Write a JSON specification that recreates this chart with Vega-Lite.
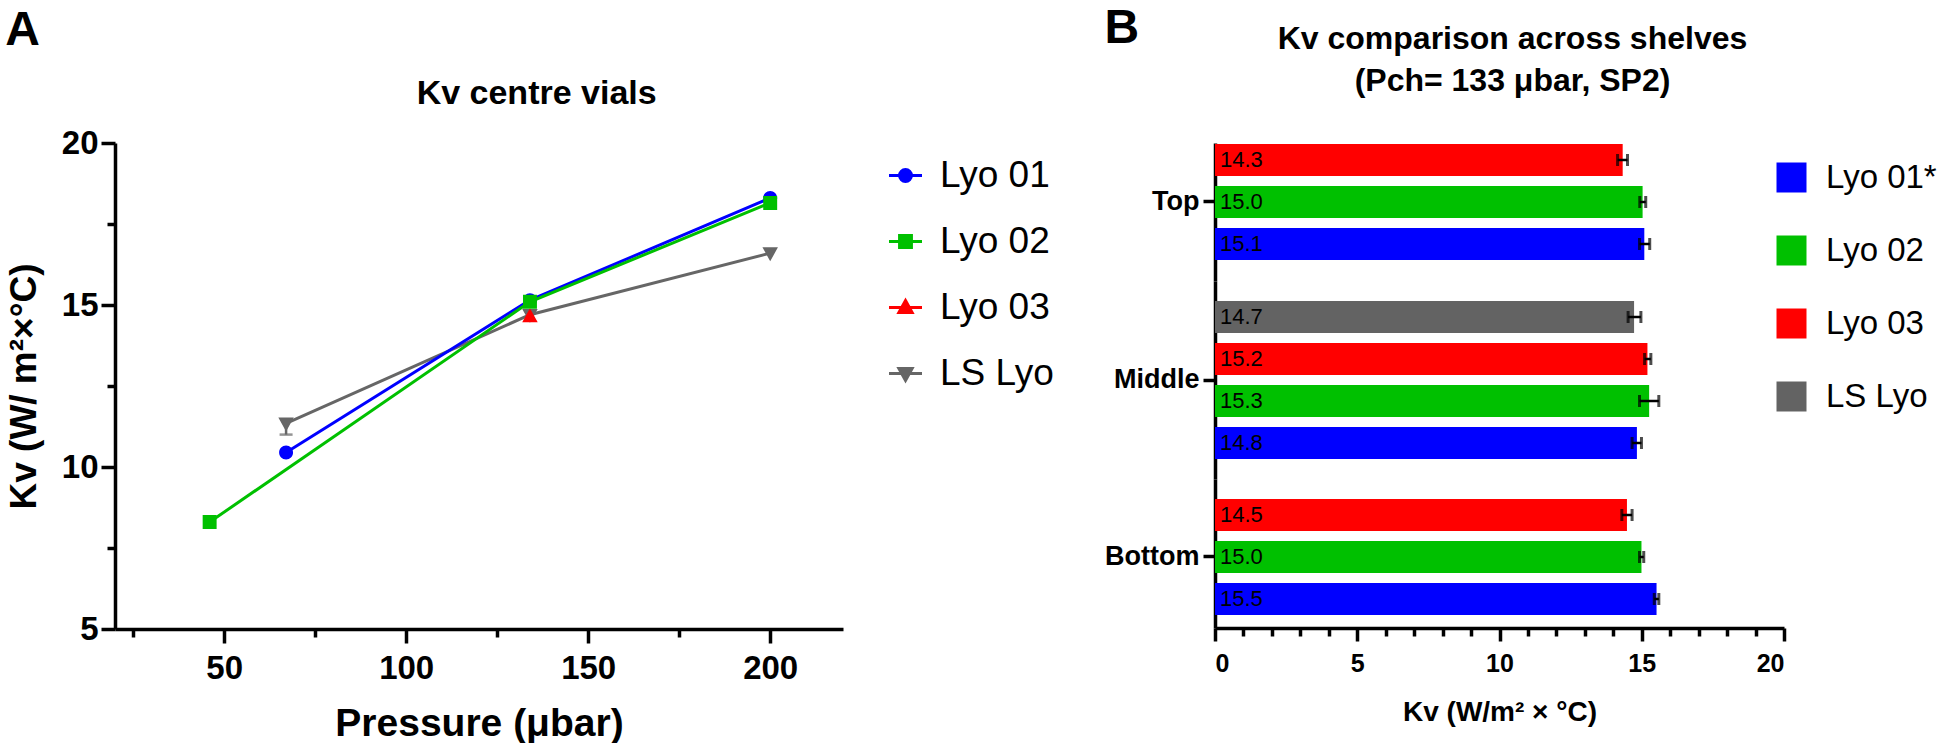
{
  "$schema": "https://vega.github.io/schema/vega-lite/v6.json",
  "padding": {"left": 5, "top": 5, "right": 0, "bottom": 0},
  "background": "white",
  "config": {
    "font": "Liberation Sans",
    "view": {"stroke": null},
    "axis": {"domainColor": "black", "tickColor": "black", "labelColor": "black", "titleColor": "black", "domainWidth": 3.5, "tickWidth": 3.5, "grid": false, "labelFont": "Liberation Sans", "titleFont": "Liberation Sans"},
    "title": {"color": "black", "font": "Liberation Sans"},
    "legend": {"labelColor": "black", "labelFont": "Liberation Sans"}
  },
  "datasets": {
    "kvA": [
      {"series": "LS Lyo", "pressure": 67, "kv": 11.35, "lo": 11.0},
      {"series": "LS Lyo", "pressure": 134, "kv": 14.7},
      {"series": "LS Lyo", "pressure": 200, "kv": 16.6},
      {"series": "Lyo 03", "pressure": 134, "kv": 14.65},
      {"series": "Lyo 01", "pressure": 67, "kv": 10.45},
      {"series": "Lyo 01", "pressure": 134, "kv": 15.15},
      {"series": "Lyo 01", "pressure": 200, "kv": 18.3},
      {"series": "Lyo 02", "pressure": 46, "kv": 8.3},
      {"series": "Lyo 02", "pressure": 134, "kv": 15.1},
      {"series": "Lyo 02", "pressure": 200, "kv": 18.15}
    ],
    "kvB": [
      {"shelf": "Top", "series": "Lyo 03", "kv": 14.33, "lo": 14.15, "hi": 14.5},
      {"shelf": "Top", "series": "Lyo 02", "kv": 15.03, "lo": 14.93, "hi": 15.14},
      {"shelf": "Top", "series": "Lyo 01*", "kv": 15.09, "lo": 14.92, "hi": 15.28},
      {"shelf": "Middle", "series": "LS Lyo", "kv": 14.73, "lo": 14.52, "hi": 14.97},
      {"shelf": "Middle", "series": "Lyo 03", "kv": 15.2, "lo": 15.1, "hi": 15.32},
      {"shelf": "Middle", "series": "Lyo 02", "kv": 15.26, "lo": 14.92, "hi": 15.6},
      {"shelf": "Middle", "series": "Lyo 01*", "kv": 14.83, "lo": 14.66, "hi": 14.99},
      {"shelf": "Bottom", "series": "Lyo 03", "kv": 14.48, "lo": 14.3, "hi": 14.66},
      {"shelf": "Bottom", "series": "Lyo 02", "kv": 14.99, "lo": 14.92, "hi": 15.07},
      {"shelf": "Bottom", "series": "Lyo 01*", "kv": 15.52, "lo": 15.44, "hi": 15.6}
    ]
  },
  "resolve": {"scale": {"color": "independent", "shape": "independent"}, "legend": {"color": "independent", "shape": "independent"}},
  "spacing": 36,
  "hconcat": [
    {
      "title": {"text": "A", "anchor": "start", "frame": "bounds", "fontSize": 48, "fontWeight": "bold", "offset": 22},
      "resolve": {"scale": {"color": "independent", "shape": "independent"}, "legend": {"color": "independent", "shape": "independent"}},
      "vconcat": [
        {
          "title": {"text": "Kv centre vials", "anchor": "middle", "frame": "bounds", "fontSize": 34, "fontWeight": "bold", "offset": 16},
          "width": 728,
          "height": 486,
          "data": {"name": "kvA"},
          "encoding": {
            "x": {"field": "pressure", "type": "quantitative", "scale": {"domain": [20, 220], "nice": false, "zero": false},
              "axis": {"values": [25, 50, 75, 100, 125, 150, 175, 200], "labelExpr": "datum.value % 50 === 0 ? datum.label : ''", "labelOverlap": false,
                "tickSize": {"condition": {"test": "datum.value % 50 === 0", "value": 14}, "value": 8},
                "labelFontSize": 33, "labelFontWeight": "bold", "labelPadding": 9, "title": "Pressure (μbar)", "titleFontSize": 39, "titleFontWeight": "bold", "titlePadding": 19}},
            "y": {"field": "kv", "type": "quantitative", "scale": {"domain": [5, 20], "nice": false, "zero": false},
              "axis": {"values": [5, 7.5, 10, 12.5, 15, 17.5, 20], "labelExpr": "datum.value % 5 === 0 ? datum.label : ''", "labelOverlap": false,
                "tickSize": {"condition": {"test": "datum.value % 5 === 0", "value": 14}, "value": 8},
                "labelFontSize": 33, "labelFontWeight": "bold", "labelPadding": 3, "title": "Kv (W/ m²×°C)", "titleFontSize": 37, "titleFontWeight": "bold", "titlePadding": 18}},
            "color": {"field": "series", "type": "nominal",
              "scale": {"domain": ["Lyo 01", "Lyo 02", "Lyo 03", "LS Lyo"], "range": ["#0000ff", "#00c000", "#ff0000", "#666666"]},
              "legend": {"title": null, "orient": "right", "offset": 30, "padding": 14, "labelFontSize": 37, "symbolSize": 1089, "symbolStrokeWidth": 3, "labelOffset": 16, "rowPadding": 28,
                "encode": {"symbols": {"update": {
                  "stroke": {"signal": "datum.value === 'Lyo 01' ? '#0000ff' : datum.value === 'Lyo 02' ? '#00c000' : datum.value === 'Lyo 03' ? '#ff0000' : '#666666'"},
                  "strokeWidth": {"value": 3},
                  "opacity": {"value": 1}
                }}}}
            },
            "shape": {"field": "series", "type": "nominal",
              "scale": {"domain": ["Lyo 01", "Lyo 02", "Lyo 03", "LS Lyo"],
                "range": ["M-1,0H1M0.36,0A0.36,0.36 0 1,1 -0.36,0A0.36,0.36 0 1,1 0.36,0Z", "M-1,0H1M-0.36,-0.36H0.36V0.36H-0.36Z", "M-1,0H1M0,-0.42L0.4,0.3H-0.4Z", "M-1,0H1M0,0.42L0.4,-0.3H-0.4Z"]},
              "legend": {"title": null}}
          },
          "layer": [
            {
              "mark": {"type": "line", "strokeWidth": 3},
              "encoding": {"shape": null}
            },
            {
              "transform": [{"filter": "isValid(datum.lo)"}],
              "mark": {"type": "rule", "strokeWidth": 2.5, "color": "#666666"},
              "encoding": {"y": {"field": "lo", "type": "quantitative"}, "y2": {"field": "kv"}, "color": null, "shape": null}
            },
            {
              "transform": [{"filter": "isValid(datum.lo)"}],
              "mark": {"type": "tick", "orient": "horizontal", "size": 13, "thickness": 2.5, "color": "#666666"},
              "encoding": {"y": {"field": "lo", "type": "quantitative"}, "color": null, "shape": null}
            },
            {
              "mark": {"type": "point", "filled": true, "opacity": 1, "size": 1500, "strokeWidth": 0}
            }
          ]
        }
      ]
    },
    {
      "title": {"text": "B", "anchor": "start", "frame": "bounds", "fontSize": 48, "fontWeight": "bold", "offset": -30},
      "bounds": "flush",
      "spacing": 0,
      "resolve": {"scale": {"color": "independent", "yOffset": "independent"}, "legend": {"color": "independent"}},
      "vconcat": [
        {
          "title": {"text": ["Kv comparison across shelves", "(Pch= 133 μbar, SP2)"], "anchor": "middle", "frame": "group", "dx": 13, "fontSize": 32, "fontWeight": "bold", "lineHeight": 42, "offset": 45},
          "width": 569,
          "height": 138,
          "data": {"name": "kvB"},
          "transform": [{"filter": "datum.shelf === 'Top'"}],
          "encoding": {
            "y": {"field": "shelf", "type": "nominal", "scale": {"paddingInner": 0, "paddingOuter": 0.0948, "align": 0.045},
              "axis": {"title": null, "labelFontSize": 27, "labelFontWeight": "bold", "tickSize": 12, "labelPadding": 4}},
            "yOffset": {"field": "series", "type": "nominal", "scale": {"domain": ["Lyo 03", "Lyo 02", "Lyo 01*"], "paddingInner": 0.238, "paddingOuter": 0}},
            "x": {"field": "kv", "type": "quantitative", "scale": {"domain": [0, 20], "nice": false}, "axis": null}
          },
          "layer": [
            {"mark": {"type": "bar"},
             "encoding": {"color": {"field": "series", "type": "nominal",
               "scale": {"domain": ["Lyo 01*", "Lyo 02", "Lyo 03", "LS Lyo"], "range": ["#0000ff", "#00c000", "#ff0000", "#636363"]},
               "legend": {"title": null, "orient": "right", "symbolType": "square", "symbolSize": 900, "symbolStrokeWidth": 0, "labelFontSize": 33, "labelOffset": 18, "rowPadding": 39, "padding": 18, "offset": -27}}}},
            {"mark": {"type": "rule", "strokeWidth": 2.5, "color": "black"}, "encoding": {"x": {"field": "lo", "type": "quantitative"}, "x2": {"field": "hi"}}},
            {"mark": {"type": "tick", "size": 12, "thickness": 3, "color": "black"}, "encoding": {"x": {"field": "lo", "type": "quantitative"}}},
            {"mark": {"type": "tick", "size": 12, "thickness": 3, "color": "black"}, "encoding": {"x": {"field": "hi", "type": "quantitative"}}},
            {"mark": {"type": "text", "align": "left", "baseline": "middle", "dx": 5, "fontSize": 22, "color": "black"},
             "encoding": {"x": {"datum": 0}, "text": {"field": "kv", "type": "quantitative", "format": ".1f"}}}
          ]
        },
        {
          "width": 569,
          "height": 198,
          "data": {"name": "kvB"},
          "transform": [{"filter": "datum.shelf === 'Middle'"}],
          "encoding": {
            "y": {"field": "shelf", "type": "nominal", "scale": {"paddingInner": 0, "paddingOuter": 0.1266, "align": 0.5},
              "axis": {"title": null, "labelFontSize": 27, "labelFontWeight": "bold", "tickSize": 12, "labelPadding": 4}},
            "yOffset": {"field": "series", "type": "nominal", "scale": {"domain": ["LS Lyo", "Lyo 03", "Lyo 02", "Lyo 01*"], "paddingInner": 0.238, "paddingOuter": 0}},
            "x": {"field": "kv", "type": "quantitative", "scale": {"domain": [0, 20], "nice": false}, "axis": null}
          },
          "layer": [
            {"mark": {"type": "bar"},
             "encoding": {"color": {"field": "series", "type": "nominal",
               "scale": {"domain": ["Lyo 01*", "Lyo 02", "Lyo 03", "LS Lyo"], "range": ["#0000ff", "#00c000", "#ff0000", "#636363"]}, "legend": null}}},
            {"mark": {"type": "rule", "strokeWidth": 2.5, "color": "black"}, "encoding": {"x": {"field": "lo", "type": "quantitative"}, "x2": {"field": "hi"}}},
            {"mark": {"type": "tick", "size": 12, "thickness": 3, "color": "black"}, "encoding": {"x": {"field": "lo", "type": "quantitative"}}},
            {"mark": {"type": "tick", "size": 12, "thickness": 3, "color": "black"}, "encoding": {"x": {"field": "hi", "type": "quantitative"}}},
            {"mark": {"type": "text", "align": "left", "baseline": "middle", "dx": 5, "fontSize": 22, "color": "black"},
             "encoding": {"x": {"datum": 0}, "text": {"field": "kv", "type": "quantitative", "format": ".1f"}}}
          ]
        },
        {
          "width": 569,
          "height": 149,
          "data": {"name": "kvB"},
          "transform": [{"filter": "datum.shelf === 'Bottom'"}],
          "encoding": {
            "y": {"field": "shelf", "type": "nominal", "scale": {"paddingInner": 0, "paddingOuter": 0.1422, "align": 0.606},
              "axis": {"title": null, "labelFontSize": 27, "labelFontWeight": "bold", "tickSize": 12, "labelPadding": 4}},
            "yOffset": {"field": "series", "type": "nominal", "scale": {"domain": ["Lyo 03", "Lyo 02", "Lyo 01*"], "paddingInner": 0.238, "paddingOuter": 0}},
            "x": {"field": "kv", "type": "quantitative", "scale": {"domain": [0, 20], "nice": false},
              "axis": {"values": [0, 1, 2, 3, 4, 5, 6, 7, 8, 9, 10, 11, 12, 13, 14, 15, 16, 17, 18, 19, 20], "labelExpr": "datum.value % 5 === 0 ? datum.label : ''", "labelOverlap": false,
                "tickSize": {"condition": {"test": "datum.value % 5 === 0", "value": 13}, "value": 8},
                "labelFontSize": 25, "labelFontWeight": "bold", "labelPadding": 10, "title": "Kv (W/m² × °C)", "titleFontSize": 28, "titleFontWeight": "bold", "titlePadding": 22}}
          },
          "layer": [
            {"mark": {"type": "bar"},
             "encoding": {"color": {"field": "series", "type": "nominal",
               "scale": {"domain": ["Lyo 01*", "Lyo 02", "Lyo 03", "LS Lyo"], "range": ["#0000ff", "#00c000", "#ff0000", "#636363"]}, "legend": null}}},
            {"mark": {"type": "rule", "strokeWidth": 2.5, "color": "black"}, "encoding": {"x": {"field": "lo", "type": "quantitative"}, "x2": {"field": "hi"}}},
            {"mark": {"type": "tick", "size": 12, "thickness": 3, "color": "black"}, "encoding": {"x": {"field": "lo", "type": "quantitative"}}},
            {"mark": {"type": "tick", "size": 12, "thickness": 3, "color": "black"}, "encoding": {"x": {"field": "hi", "type": "quantitative"}}},
            {"mark": {"type": "text", "align": "left", "baseline": "middle", "dx": 5, "fontSize": 22, "color": "black"},
             "encoding": {"x": {"datum": 0}, "text": {"field": "kv", "type": "quantitative", "format": ".1f"}}}
          ]
        }
      ]
    }
  ]
}
